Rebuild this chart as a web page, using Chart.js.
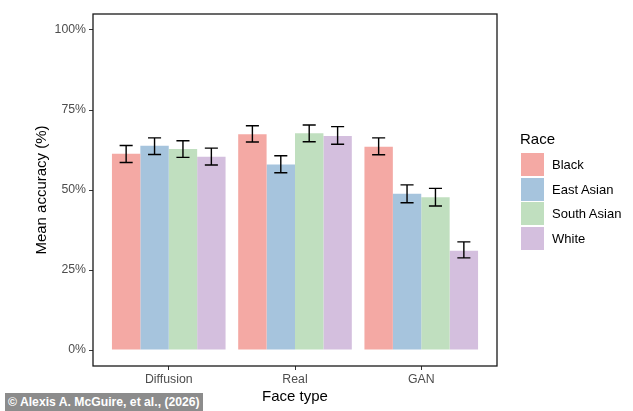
<!DOCTYPE html>
<html>
<head>
<meta charset="utf-8">
<script src="https://cdn.jsdelivr.net/npm/chart.js@4"></script>
<style>
  body { margin: 0; background: #fff; font-family: "Liberation Sans", Arial, sans-serif; }
  #wrap { position: relative; width: 633px; height: 411px; }
  #legend { position: absolute; left: 520px; top: 130px; color: #000; }
  #legend .title { font-size: 15px; margin-bottom: 6px; }
  #legend .item { display: flex; align-items: center; height: 23px; margin-bottom: 1.5px; font-size: 13px; }
  #legend .key { width: 23px; height: 23px; margin-left: 1px; margin-right: 8px; }
  #credit { position: absolute; left: 5px; top: 393px; height: 18px; line-height: 18px; padding: 0 3px;
            background: #8c8c8c; color: #fff; font-weight: bold; font-size: 12.2px; white-space: nowrap; }
</style>
</head>
<body>
<div id="wrap">
  <canvas id="chart" width="633" height="411"></canvas>
  <div id="legend"></div>
  <div id="credit">© Alexis A. McGuire, et al., (2026)</div>
</div>
<script>
// categorias e séries
const categories = ['Diffusion', 'Real', 'GAN'];
const races = ['Black', 'East Asian', 'South Asian', 'White'];
const colors = ['#F4A9A4', '#A6C4DD', '#C0DFBF', '#D4BFDE'];

const black      = [61.3, 67.4, 63.5];
const eastAsian  = [63.8, 58.0, 48.8];
const southAsian = [62.8, 67.7, 47.7];
const white      = [60.4, 66.9, 31.0];

// limites das barras de erro (inferior / superior)
const blackLow       = [58.6, 65.0, 61.0];
const blackHigh      = [63.9, 70.1, 66.3];
const eastAsianLow   = [61.1, 55.4, 46.0];
const eastAsianHigh  = [66.3, 60.7, 51.6];
const southAsianLow  = [60.2, 65.1, 45.0];
const southAsianHigh = [65.4, 70.3, 50.5];
const whiteLow       = [57.8, 64.3, 28.8];
const whiteHigh      = [63.1, 69.8, 33.8];

const yTicks = [0, 25, 50, 75, 100];

const seriesValues = [black, eastAsian, southAsian, white];
const seriesLow = [blackLow, eastAsianLow, southAsianLow, whiteLow];
const seriesHigh = [blackHigh, eastAsianHigh, southAsianHigh, whiteHigh];

const datasets = races.map((race, i) => ({
    label: race,
    data: seriesValues[i].map((v, j) => ({ x: j, y: v })),
    backgroundColor: colors[i],
    borderWidth: 0,
    categoryPercentage: 0.9,
    barPercentage: 1.0,
    low: seriesLow[i],
    high: seriesHigh[i]
}));

// Plugin: moldura do painel + barras de erro
const panelAndErrors = {
    id: 'panelAndErrors',
    afterDatasetsDraw(chart) {
        const ctx = chart.ctx;
        const y = chart.scales.y;
        ctx.save();
        ctx.strokeStyle = '#000';
        ctx.lineWidth = 1.4;
        chart.data.datasets.forEach((ds, i) => {
            const meta = chart.getDatasetMeta(i);
            meta.data.forEach((bar, j) => {
                const yl = y.getPixelForValue(ds.low[j]);
                const yh = y.getPixelForValue(ds.high[j]);
                const half = bar.width * 0.23;
                ctx.beginPath();
                ctx.moveTo(bar.x, yl); ctx.lineTo(bar.x, yh);
                ctx.moveTo(bar.x - half, yl); ctx.lineTo(bar.x + half, yl);
                ctx.moveTo(bar.x - half, yh); ctx.lineTo(bar.x + half, yh);
                ctx.stroke();
            });
        });
        const a = chart.chartArea;
        ctx.strokeStyle = '#1a1a1a';
        ctx.lineWidth = 1.3;
        ctx.strokeRect(a.left, a.top, a.right - a.left, a.bottom - a.top);
        ctx.restore();
    }
};

const tickFont = { family: '"Liberation Sans", Arial, sans-serif', size: 12.3 };
const titleFont = { family: '"Liberation Sans", Arial, sans-serif', size: 15 };

new Chart(document.getElementById('chart').getContext('2d'), {
    type: 'bar',
    data: { datasets: datasets },
    options: {
        responsive: false,
        animation: false,
        layout: { padding: { left: 33, right: 136, top: 14, bottom: 0 } },
        plugins: {
            legend: { display: false },
            tooltip: { enabled: false }
        },
        scales: {
            x: {
                type: 'linear',
                min: -0.6,
                max: 2.6,
                offset: false,
                afterBuildTicks: (scale) => { scale.ticks = categories.map((c, i) => ({ value: i })); },
                afterFit: (scale) => { scale.height = 45; },
                border: { display: false },
                grid: { offset: false, drawOnChartArea: false, drawTicks: true, tickLength: 4, color: '#333', lineWidth: 1 },
                ticks: {
                    color: '#4d4d4d',
                    font: tickFont,
                    padding: 2,
                    maxRotation: 0,
                    callback: (v) => categories[v]
                },
                title: { display: true, text: 'Face type', color: '#000', font: titleFont, padding: { top: 0, bottom: 5 } }
            },
            y: {
                min: -5,
                max: 105,
                afterBuildTicks: (scale) => { scale.ticks = yTicks.map(v => ({ value: v })); },
                afterFit: (scale) => { scale.width = 60; },
                border: { display: false },
                grid: { drawOnChartArea: false, drawTicks: true, tickLength: 4, color: '#333', lineWidth: 1 },
                ticks: {
                    color: '#4d4d4d',
                    font: tickFont,
                    padding: 3,
                    callback: (v) => v + '%'
                },
                title: { display: true, text: 'Mean accuracy (%)', color: '#000', font: titleFont, padding: { top: 0, bottom: 0 } }
            }
        }
    },
    plugins: [panelAndErrors]
});

// Legenda em HTML gerada a partir das séries
const legend = document.getElementById('legend');
legend.innerHTML = '<div class="title">Race</div>' + races.map((r, i) =>
    `<div class="item"><span class="key" style="background:${colors[i]}"></span>${r}</div>`).join('');
</script>
</body>
</html>
